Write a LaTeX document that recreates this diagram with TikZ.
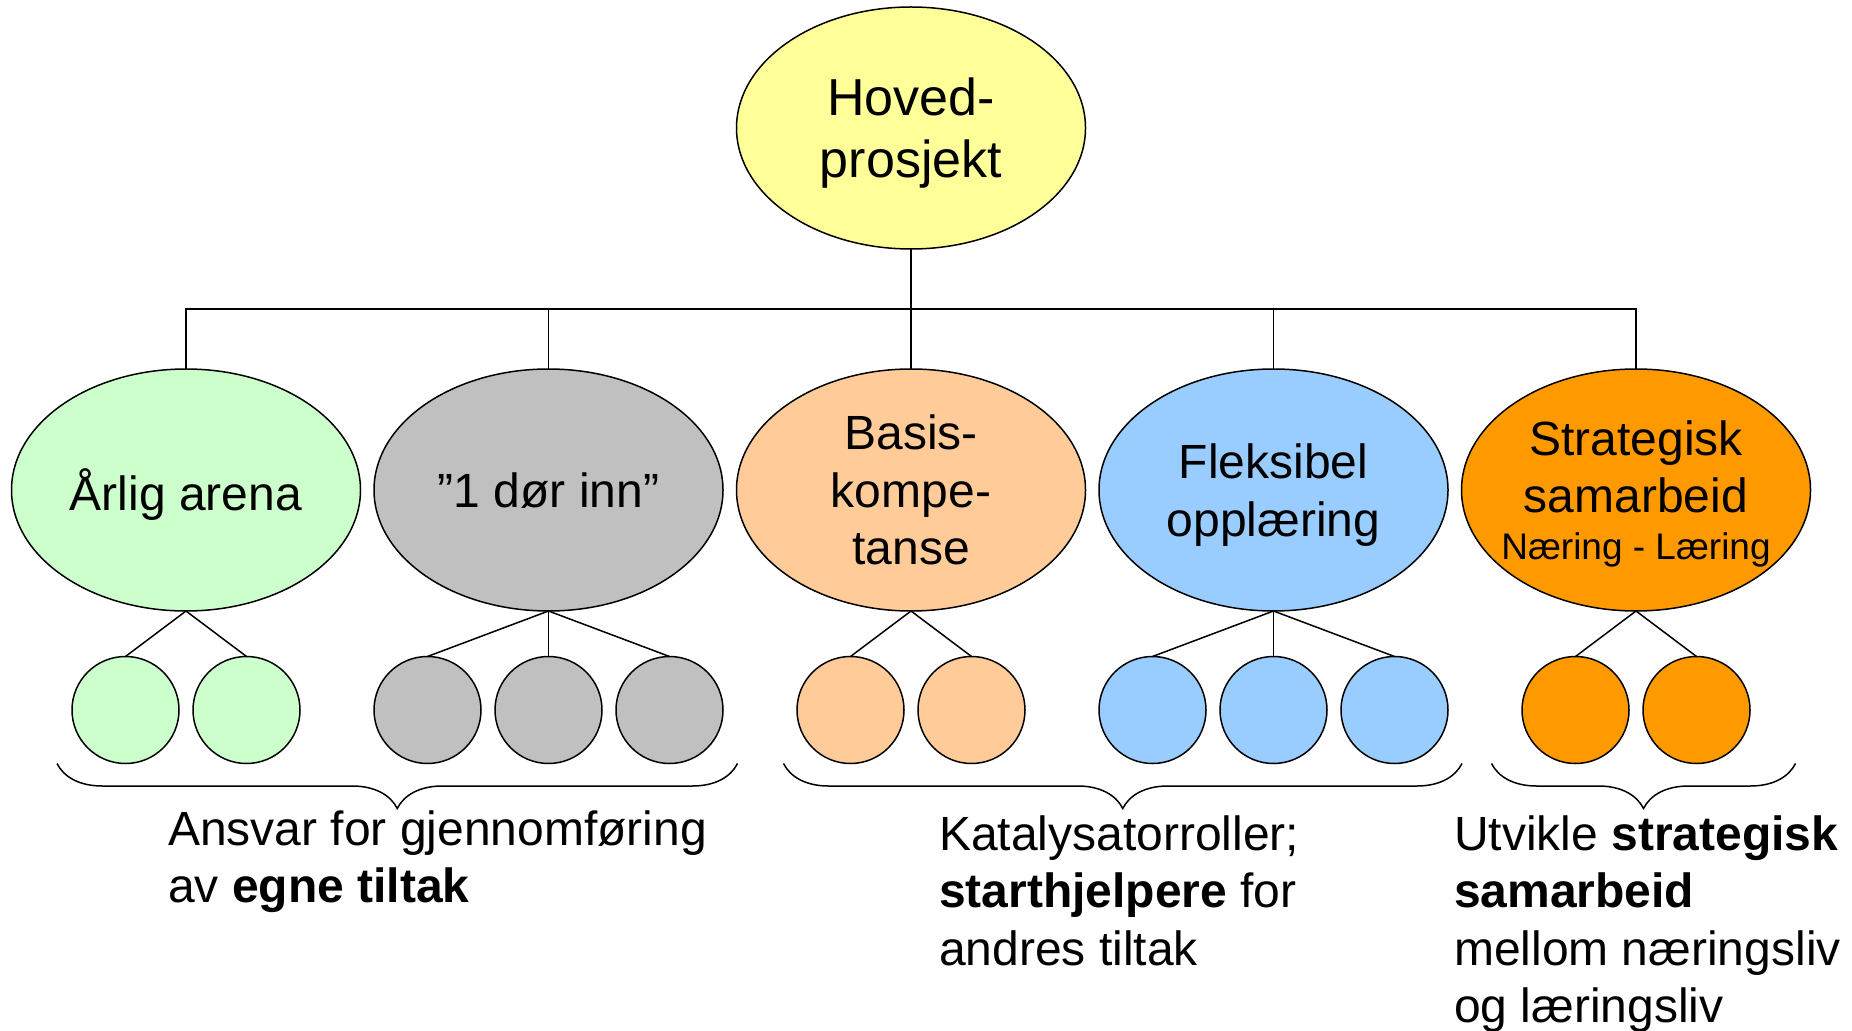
\documentclass[tikz,border=0pt]{standalone}
\usepackage{fontspec}
\setmainfont{Liberation Sans}
\usetikzlibrary{positioning,shapes.geometric,calc,decorations.pathreplacing}

\definecolor{hovedyellow}{HTML}{FFFF99}
\definecolor{arenagreen}{HTML}{CCFFCC}
\definecolor{dorgray}{HTML}{C0C0C0}
\definecolor{basispeach}{HTML}{FFCC99}
\definecolor{fleksblue}{HTML}{99CCFF}
\definecolor{stratorange}{HTML}{FF9900}

\begin{document}
\begin{tikzpicture}[node distance=6.75pt, line width=0.75pt,
  every node/.style={inner sep=0pt, outer sep=0pt},
  area/.style={draw, ellipse, minimum width=174.5pt, minimum height=121pt, align=center, text depth=0pt, font=\fontsize{24}{28.75}\selectfont},
  sub/.style={draw, circle, minimum size=53.5pt},
  note/.style={anchor=base west, align=left, font=\fontsize{24}{28.75}\selectfont},
  curly/.style={decorate, decoration={brace, mirror, amplitude=22.5pt}}]
  \useasboundingbox (0,0) rectangle (926pt,-515.5pt);

  % Main project
  \node[area, fill=hovedyellow, font=\fontsize{26}{31}\selectfont] (Hoved) at (455.5pt,-64pt) {Hoved-\\prosjekt};

  % Areas
  \node[area, fill=basispeach] (Basis) [below=60pt of Hoved] {Basis-\\kompe-\\tanse};
  \node[area, fill=dorgray] (Dor) [left=of Basis] {”1 dør inn”};
  \node[area, fill=arenagreen] (Arena) [left=of Dor] {Årlig arena};
  \node[area, fill=fleksblue] (Fleks) [right=of Basis] {Fleksibel\\opplæring};
  \node[area, fill=stratorange] (Strat) [right=of Fleks] {Strategisk\\samarbeid\\[-5.25pt]{\fontsize{18.5}{22}\selectfont\makebox[100pt]{Næring - Læring}}};

  % Sub-activities
  \node[sub, fill=arenagreen] (a1) [below=22.75pt of Arena, xshift=-30.25pt] {};
  \node[sub, fill=arenagreen] (a2) [right=7pt of a1] {};
  \node[sub, fill=dorgray] (d2) [below=22.75pt of Dor] {};
  \node[sub, fill=dorgray] (d1) [left=7pt of d2] {};
  \node[sub, fill=dorgray] (d3) [right=7pt of d2] {};
  \node[sub, fill=basispeach] (b1) [below=22.75pt of Basis, xshift=-30.25pt] {};
  \node[sub, fill=basispeach] (b2) [right=7pt of b1] {};
  \node[sub, fill=fleksblue] (f2) [below=22.75pt of Fleks] {};
  \node[sub, fill=fleksblue] (f1) [left=7pt of f2] {};
  \node[sub, fill=fleksblue] (f3) [right=7pt of f2] {};
  \node[sub, fill=stratorange] (s1) [below=22.75pt of Strat, xshift=-30.25pt] {};
  \node[sub, fill=stratorange] (s2) [right=7pt of s1] {};

  % Tree
  \coordinate (bar) at ($(Hoved.south)!.5!(Basis.north)$);
  \draw (Hoved.south) -- (Basis.north);
  \draw (Arena.north) |- (bar) -| (Strat.north);
  \draw (Dor.north) -- (Dor.north |- bar);
  \draw (Fleks.north) -- (Fleks.north |- bar);

  \draw (Arena.south) -- (a1.north);
  \draw (Arena.south) -- (a2.north);
  \draw (Dor.south) -- (d1.north);
  \draw (Dor.south) -- (d2.north);
  \draw (Dor.south) -- (d3.north);
  \draw (Basis.south) -- (b1.north);
  \draw (Basis.south) -- (b2.north);
  \draw (Fleks.south) -- (f1.north);
  \draw (Fleks.south) -- (f2.north);
  \draw (Fleks.south) -- (f3.north);
  \draw (Strat.south) -- (s1.north);
  \draw (Strat.south) -- (s2.north);

  % Braces
  \coordinate[xshift=-7.5pt] (curlyAs) at (a1.west |- a1.south);
  \coordinate[xshift=7.25pt] (curlyAe) at (d3.east |- d3.south);
  \coordinate[xshift=-6.75pt] (curlyBs) at (b1.west |- b1.south);
  \coordinate[xshift=7pt] (curlyBe) at (f3.east |- f3.south);
  \coordinate[xshift=-15.25pt] (curlyCs) at (s1.west |- s1.south);
  \coordinate[xshift=22.75pt] (curlyCe) at (s2.east |- s2.south);
  \draw[curly] (curlyAs) -- (curlyAe);
  \draw[curly] (curlyBs) -- (curlyBe);
  \draw[curly] (curlyCs) -- (curlyCe);

  % Roles (base = last line)
  \node[note] (ansvar) at (84pt,-451.25pt) {Ansvar for gjennomføring\\av \textbf{egne tiltak}};
  \node[note] (katalys) at (469.5pt,-482.5pt) {Katalysatorroller;\\\textbf{starthjelpere} for\\andres tiltak};
  \node[note] (utvikle) at (727pt,-511.25pt) {Utvikle \textbf{strategisk}\\\textbf{samarbeid}\\mellom næringsliv\\og læringsliv};
\end{tikzpicture}
\end{document}
